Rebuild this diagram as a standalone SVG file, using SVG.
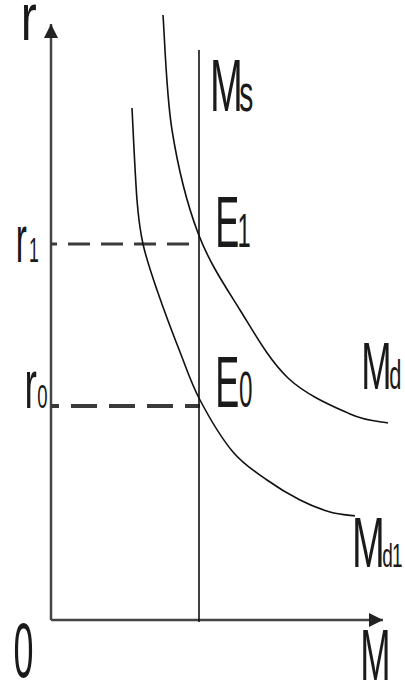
<svg xmlns="http://www.w3.org/2000/svg" width="405" height="686" viewBox="0 0 405 686">
<style>
.lbl{font-family:"Liberation Sans",Arial,sans-serif;font-size:40px;fill:#1a1a1a}
.crv{fill:none;stroke:#111;stroke-width:1.6}
.ax{fill:none;stroke:#444;stroke-width:2.5}
.dash{fill:none;stroke:#3a3a3a}
</style>
<defs>
<marker id="arr" markerUnits="userSpaceOnUse" markerWidth="20" markerHeight="20" refX="14" refY="7" orient="auto">
<path d="M0,0 L14,7 L0,14 Z" fill="#222"/>
</marker>
</defs>
<rect width="405" height="686" fill="#fff"/>
<g id="connectors">
<path id="y-axis" class="ax" d="M51,620 V24" stroke="#777" stroke-width="2" marker-end="url(#arr)"/>
<path id="x-axis" class="ax" d="M51,620 H383" stroke-width="3" marker-end="url(#arr)"/>
<path id="r1-line" class="dash" d="M51,244 H200" stroke-width="3" stroke-dasharray="22 11" stroke-dashoffset="16"/>
<path id="r0-line" class="dash" d="M51,406 H200" stroke-width="4" stroke-dasharray="26 12" stroke-dashoffset="18"/>
</g>
<g id="Ms">
<path class="crv" d="M199,50 V622" stroke-width="2"/>
<text class="lbl" transform="translate(210.1,111) scale(0.985,1.85)">M<tspan x="29.5" font-size="28.5">s</tspan></text>
</g>
<g id="Md2">
<path class="crv" d="M163,15 C164.5,34.2 166.2,93.7 172,130 C177.8,166.3 186.7,203 198,233 C209.3,263 225,285.8 240,310 C255,334.2 269.7,360.7 288,378 C306.3,395.3 333.3,406.5 350,414 C366.7,421.5 381.7,421.5 388,423"/>
<text class="lbl" transform="translate(361.3,389) scale(0.91,1.68)">M<tspan x="30.7" font-size="24">d</tspan></text>
</g>
<g id="Md1">
<path class="crv" d="M132,108 C132.8,123.3 135.2,177.3 137,200 C138.8,222.7 139.7,229 143,244 C146.3,259 150.8,272 157,290 C163.2,308 172.8,333.7 180,352 C187.2,370.3 191.2,383.3 200,400 C208.8,416.7 221.8,438.7 233,452 C244.2,465.3 255.8,472 267,480 C278.2,488 289.5,494.7 300,500 C310.5,505.3 320.8,509.3 330,512 C339.2,514.7 350.8,515.3 355,516"/>
<text class="lbl" transform="translate(352.1,567) scale(0.985,1.75)">M<tspan x="30.7" font-size="19.3">d</tspan><tspan x="40.4" font-size="19.3">1</tspan></text>
</g>
<g id="E1">
<text class="lbl" transform="translate(215.2,247) scale(0.9,1.82)">E<tspan x="24.7" font-size="26.4">1</tspan></text>
</g>
<g id="E0">
<text class="lbl" transform="translate(215.2,407) scale(0.9,1.82)">E<tspan x="26.5" font-size="27">0</tspan></text>
</g>
<g id="r-label">
<text class="lbl" transform="translate(20.8,40) scale(1.2,1.65)">r</text>
</g>
<g id="r1">
<text class="lbl" transform="translate(15.8,262) scale(0.83,1.65)">r<tspan x="16" font-size="21.3">1</tspan></text>
</g>
<g id="r0">
<text class="lbl" transform="translate(24.5,408) scale(0.93,1.7)">r<tspan x="13.7" font-size="20">0</tspan></text>
</g>
<g id="origin">
<text class="lbl" transform="translate(13.5,677) scale(0.9,1.94)">0</text>
</g>
<g id="M-label">
<text class="lbl" transform="translate(360.3,680) scale(0.91,1.82)">M</text>
</g>
</svg>
